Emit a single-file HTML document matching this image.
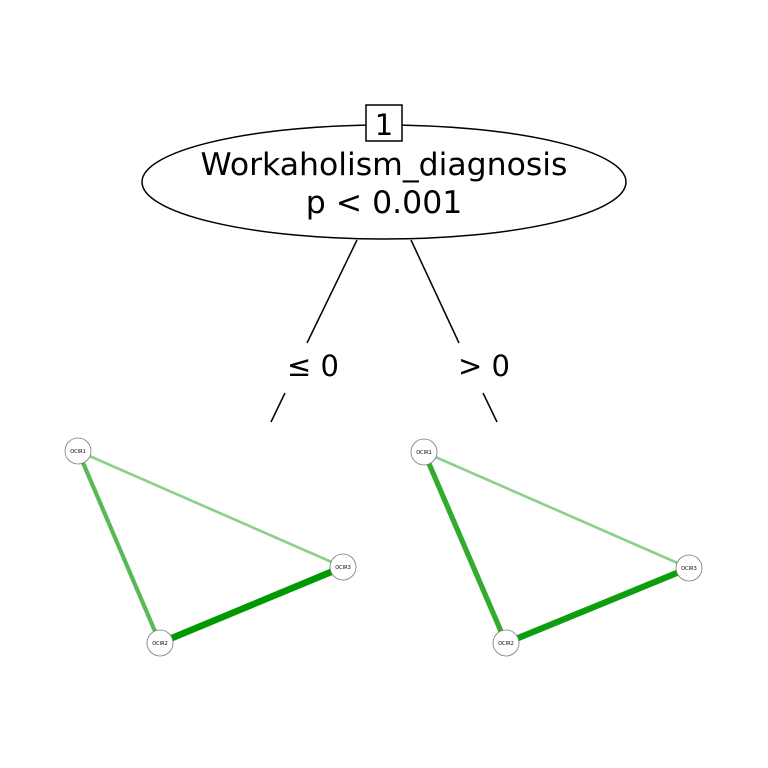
<!DOCTYPE html>
<html><head><meta charset="utf-8"><style>body{margin:0;background:#fff}svg{display:block}text{font-family:"DejaVu Sans","Liberation Sans",sans-serif}</style></head>
<body>
<svg width="768" height="768" viewBox="0 0 768 768">
<rect width="768" height="768" fill="#fff"/>
<g stroke="#000" stroke-width="1.5">
<line x1="357" y1="240" x2="307" y2="343"/><line x1="285" y1="393" x2="271" y2="422"/>
<line x1="411" y1="240" x2="459" y2="343"/><line x1="483" y1="393" x2="497" y2="422"/>
</g>
<ellipse cx="384" cy="182" rx="242" ry="57" fill="#fff" stroke="#000" stroke-width="1.5"/>
<text x="384" y="175" font-size="31.5" text-anchor="middle">Workaholism_diagnosis</text>
<text x="384" y="213" font-size="31.5" text-anchor="middle">p &lt; 0.001</text>
<rect x="366" y="105" width="36" height="36" fill="#fff" stroke="#000" stroke-width="1.5"/>
<text x="384" y="135" font-size="29" text-anchor="middle">1</text>
<text x="313" y="376" font-size="29" text-anchor="middle">≤ 0</text>
<text x="484" y="376" font-size="29" text-anchor="middle">&gt; 0</text>
<g id="nets"></g>
</svg>
<script>
const nodeNames = ["OCIR1","OCIR2","OCIR3"];
const edgePairs = [[0,1],[0,2],[1,2]];
const leftWeights = [0.6, 0.38, 0.95];
const rightWeights = [0.75, 0.38, 0.9];
const panels = [
 {w:leftWeights, pos:[[78,451],[160,643],[343,567]], name:"left-network"},
 {w:rightWeights, pos:[[424,452],[506,643],[689,568]], name:"right-network"}];
const NS="http://www.w3.org/2000/svg";
const root=document.getElementById('nets');
function col(v){const t=Math.max(0,Math.min(1,(v-0.3)/0.65));const r=Math.round(160-160*t),g=Math.round(216-63*t),b=Math.round(160-160*t);return `rgb(${r},${g},${b})`;}
panels.forEach(p=>{
 const g=document.createElementNS(NS,'g');
 
 
 root.appendChild(g);
 edgePairs.forEach((e,i)=>{
  const l=document.createElementNS(NS,'line');
  const a=p.pos[e[0]],b=p.pos[e[1]];
  l.setAttribute('x1',a[0]);l.setAttribute('y1',a[1]);l.setAttribute('x2',b[0]);l.setAttribute('y2',b[1]);
  l.setAttribute('stroke',col(p.w[i]));l.setAttribute('stroke-width',p.w[i]*7);
  
  
  g.appendChild(l);
 });
 nodeNames.forEach((n,i)=>{
  const c=document.createElementNS(NS,'circle');
  c.setAttribute('cx',p.pos[i][0]);c.setAttribute('cy',p.pos[i][1]);c.setAttribute('r',13);
  c.setAttribute('fill','#fff');c.setAttribute('stroke','#777');c.setAttribute('stroke-width','0.8');
  
  
  g.appendChild(c);
  const t=document.createElementNS(NS,'text');
  t.setAttribute('x',p.pos[i][0]);t.setAttribute('y',p.pos[i][1]+2);t.setAttribute('font-size','5');t.setAttribute('text-anchor','middle');
  t.textContent=n;
  
  
  g.appendChild(t);
 });
});
</script>
</body></html>
